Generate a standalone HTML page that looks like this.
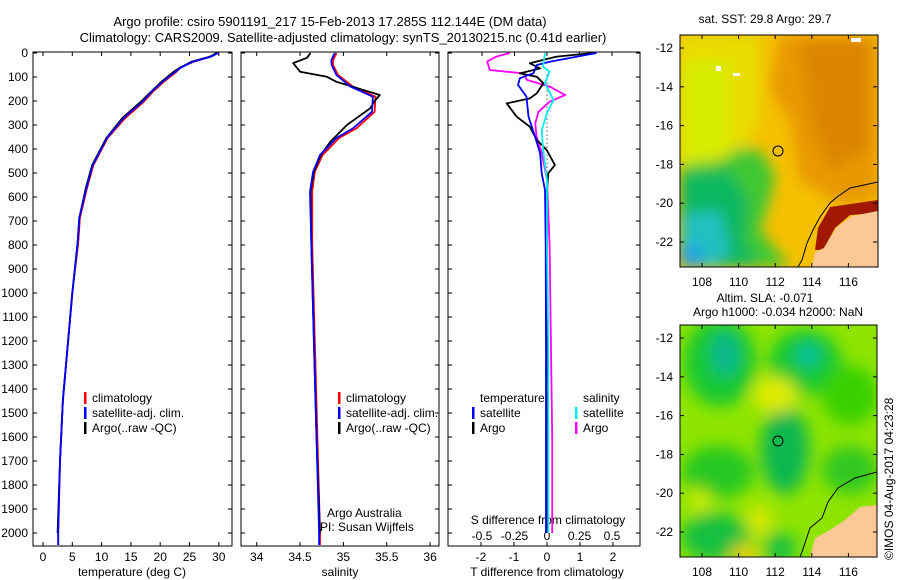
<!DOCTYPE html>
<html><head><meta charset="utf-8"><style>
body{margin:0;background:#fff;}
svg{display:block;font-family:"Liberation Sans",sans-serif;}
</style></head><body>
<svg id="fig" width="900" height="580" viewBox="0 0 900 580">
<defs>
<filter id="blur1" x="-20%" y="-20%" width="140%" height="140%"><feGaussianBlur stdDeviation="7"/></filter>
<filter id="blur2" x="-20%" y="-20%" width="140%" height="140%"><feGaussianBlur stdDeviation="8"/></filter>
<clipPath id="c1"><rect x="680" y="35" width="198" height="232"/></clipPath>
<clipPath id="c2"><rect x="680" y="325" width="197" height="232"/></clipPath>
</defs>
<g font-size="13" text-anchor="middle" fill="#000">
<text x="330" y="26">Argo profile: csiro 5901191_217 15-Feb-2013 17.285S 112.144E (DM data)</text>
<text x="343" y="42">Climatology: CARS2009. Satellite-adjusted climatology: synTS_20130215.nc (0.41d earlier)</text>
</g>
<!-- Map 1 -->
<g clip-path="url(#c1)">
<rect x="680" y="35" width="198" height="232" fill="#f5c000"/>
<g filter="url(#blur1)">
<polygon points="780,35 878,35 878,200 840,205 800,180 790,120 770,90" fill="#e89800"/>
<polygon points="800,40 870,40 870,150 830,170 810,120" fill="#dc8600"/>
<polygon points="680,35 760,35 760,120 740,160 700,170 680,175" fill="#e8dc00"/>
<polygon points="680,60 730,60 730,150 690,170 680,170" fill="#d8ec00"/>
<polygon points="680,165 720,160 740,148 760,150 775,175 770,200 760,230 790,267 680,267" fill="#40c830"/>
<polygon points="680,175 730,170 748,200 745,240 760,267 680,267" fill="#10b860"/>
<polygon points="680,215 720,210 730,250 720,267 680,267" fill="#20c0c0"/>
<polygon points="680,245 700,245 705,267 680,267" fill="#20a0e8"/>
</g>
<polygon points="830,207 878,200 878,213 850,215 835,228 823,250 815,250 818,228" fill="#a01800"/>
<polygon points="878,211 878,267 812,267 815,252 824,248 836,228 852,216" fill="#fcc896"/>
<polyline points="878,182 850,188 837,197 830,203 820,217 813,230 807,243 802,260 798,267" fill="none" stroke="#000" stroke-width="1"/>
<rect x="716" y="66" width="5" height="5" fill="#fff"/><rect x="733" y="73" width="7" height="3" fill="#fff"/>
<rect x="851" y="38" width="10" height="4" fill="#fff"/>
<circle cx="778" cy="151" r="5" fill="none" stroke="#000"/>
</g>
<rect x="680" y="35" width="198" height="232" fill="none" stroke="#000"/>
<!-- Map 2 -->
<g clip-path="url(#c2)">
<rect x="680" y="325" width="197" height="232" fill="#8ee400"/>
<g filter="url(#blur2)">
<ellipse cx="720" cy="362" rx="36" ry="44" fill="#18c830"/>
<ellipse cx="805" cy="362" rx="36" ry="32" fill="#18c830"/>
<ellipse cx="725" cy="355" rx="14" ry="22" fill="#10b890"/>
<ellipse cx="808" cy="355" rx="12" ry="12" fill="#10c0a0"/>
<ellipse cx="850" cy="395" rx="28" ry="30" fill="#38d000"/>
<ellipse cx="785" cy="450" rx="24" ry="44" fill="#10b850"/>
<ellipse cx="718" cy="472" rx="36" ry="26" fill="#28c820"/>
<ellipse cx="715" cy="537" rx="34" ry="24" fill="#18c040"/>
<ellipse cx="780" cy="548" rx="16" ry="16" fill="#18c040"/>
<ellipse cx="850" cy="470" rx="28" ry="24" fill="#30c820"/>
<ellipse cx="775" cy="395" rx="22" ry="18" fill="#e0ec00"/>
<ellipse cx="700" cy="500" rx="10" ry="12" fill="#d0ee00"/>
<ellipse cx="760" cy="520" rx="12" ry="16" fill="#dce800"/>
<ellipse cx="745" cy="555" rx="14" ry="10" fill="#f0d000"/>
</g>
<polygon points="877,505 860,507 845,520 830,530 815,538 810,557 877,557" fill="#fcc896"/>
<polyline points="877,472 855,478 838,488 828,502 822,518 810,528 802,552 800,557" fill="none" stroke="#000"/>
<circle cx="778" cy="441" r="5" fill="none" stroke="#000"/>
</g>
<rect x="680" y="325" width="197" height="232" fill="none" stroke="#000"/>
<g font-size="12" text-anchor="middle">
<text x="765" y="23">sat. SST: 29.8 Argo: 29.7</text>
<text x="765" y="302">Altim. SLA: -0.071</text>
<text x="778" y="316">Argo h1000: -0.034 h2000: NaN</text>
</g>
<text transform="translate(893,560) rotate(-90)" font-size="12">©IMOS 04-Aug-2017 04:23:28</text>
<g id="layer"></g>
</svg>
<script>
// ---------- data ----------
const depthTicks=[0,100,200,300,400,500,600,700,800,900,1000,1100,1200,1300,1400,1500,1600,1700,1800,1900,2000];
const tempTicks=[0,5,10,15,20,25,30];
const salTicks=[34,34.5,35,35.5,36];
const salTickLabels=["34","34.5","35","35.5","36"];
const tdTicks=[-2,-1,0,1,2];
const sdTicks=[-0.5,-0.25,0,0.25,0.5];
const sdTickLabels=["-0.5","-0.25","0","0.25","0.5"];

const tDepthArgo=[0,15,36,60,78,120,160,203,272,355,467,563,687,792,1000,1196,1446,1700,2000];
const tArgo=[29.6,28.5,25.4,23.5,22.3,20.2,18.5,16.7,13.5,10.8,8.4,7.3,6.2,5.9,5.0,4.3,3.4,2.9,2.5];
const tDepthClim=[0,15,36,60,78,120,160,203,272,355,467,563,687,792,1000,1196,1446,1700,2000,2050];
const tClim=[29.8,28.6,25.8,23.4,22.8,20.6,18.8,17.2,14.0,11.0,8.6,7.5,6.3,6.0,5.0,4.3,3.4,2.9,2.6,2.6];
const tSat=[29.9,28.7,25.6,23.6,22.6,20.4,18.6,17.0,13.7,10.9,8.5,7.4,6.2,5.9,5.0,4.3,3.4,2.9,2.6,2.6];

const sDepthArgo=[0,20,42,78,99,120,175,200,230,300,370,425,495,578,792,1200,1600,2000];
const sArgo=[34.62,34.58,34.42,34.50,34.81,34.92,35.42,35.36,35.31,35.04,34.85,34.74,34.66,34.62,34.63,34.66,34.69,34.73];
const sDepthClim=[0,30,50,92,140,182,245,314,354,425,495,578,792,1200,1600,2000,2050];
const sClim=[34.92,34.88,34.88,34.94,35.11,35.37,35.36,35.15,34.95,34.76,34.67,34.64,34.64,34.67,34.70,34.73,34.73];
const sSat=[34.90,34.86,34.865,34.92,35.08,35.34,35.33,35.11,34.92,34.73,34.65,34.615,34.63,34.66,34.69,34.72,34.72];

const dDepthA=[0,15,43,64,85,99,126,168,189,210,265,307,362,404,467,501,571,800,1200,1600,2000];
const tdArgo=[1.4,0.29,-0.52,-0.21,-0.82,-0.31,-0.11,-0.31,-0.52,-1.22,-0.92,-0.52,-0.31,-0.01,0.24,0.04,0,0,0,0,0];
const dDepthS=[0,36,50,84,105,133,182,265,349,418,501,571,800,1200,1600,2000];
const tdSat=[1.5,0.1,-0.31,-0.41,-0.82,-0.88,-0.62,-0.56,-0.36,-0.21,-0.16,-0.06,-0.04,-0.03,-0.03,-0.03];
const dDepthSA=[0,15,36,71,85,112,140,175,203,245,293,349,418,529,800,1200,1600,2000];
const sdArgo=[-0.285,-0.39,-0.46,-0.44,-0.18,-0.155,0.02,0.14,0.02,-0.065,-0.09,-0.08,-0.04,0.0,0.02,0.03,0.04,0.04];
const dDepthSS=[0,57,78,126,196,250,321,404,529,800,1200,1600,2000];
const sdSat=[-0.015,-0.03,0.02,-0.015,0.05,0,-0.04,-0.03,0,0,0.01,0.01,0.01];

// ---------- axes ----------
const TOP=53, BOT=546;
const yD=d=>TOP+d*0.24;
const xT=v=>43+v*5.86;
const xS=v=>256.7+(v-34)*86.7;
const xTD=v=>547+v*33;
const xSD=v=>547+v*130;
const NS="http://www.w3.org/2000/svg";
const layer=document.getElementById('layer');
function mk(tag,attrs,parent){const e=document.createElementNS(NS,tag);for(const k in attrs)e.setAttribute(k,attrs[k]);(parent||layer).appendChild(e);return e;}
function txt(x,y,s,anchor,size){const t=mk('text',{x:x,y:y,'font-size':size||12,'text-anchor':anchor||'middle'});t.textContent=s;return t;}

const panels=[{l:33,r:232,name:'temperature'},{l:241,r:439,name:'salinity'},{l:448,r:640,name:'difference'}];
panels.forEach(p=>{
  const fr=mk('rect',{x:p.l,y:TOP-1,width:p.r-p.l,height:BOT-TOP+1,fill:'none',stroke:'#000'});
  
  
  depthTicks.forEach(d=>{
    mk('line',{x1:p.l,x2:p.l+4,y1:yD(d),y2:yD(d),stroke:'#000'});
    mk('line',{x1:p.r,x2:p.r-4,y1:yD(d),y2:yD(d),stroke:'#000'});
  });
});
depthTicks.forEach(d=>{
  const t=txt(28,yD(d)+4,String(d),'end',12);
  
  
});
tempTicks.forEach(v=>{
  mk('line',{x1:xT(v),x2:xT(v),y1:BOT,y2:BOT-4,stroke:'#000'});
  mk('line',{x1:xT(v),x2:xT(v),y1:TOP-1,y2:TOP+3,stroke:'#000'});
  const t=txt(xT(v),561,String(v));
  
  
});
salTicks.forEach((v,i)=>{
  mk('line',{x1:xS(v),x2:xS(v),y1:BOT,y2:BOT-4,stroke:'#000'});
  mk('line',{x1:xS(v),x2:xS(v),y1:TOP-1,y2:TOP+3,stroke:'#000'});
  const t=txt(xS(v),561,salTickLabels[i]);
  
  
});
tdTicks.forEach(v=>{
  mk('line',{x1:xTD(v),x2:xTD(v),y1:BOT,y2:BOT-4,stroke:'#000'});
  const t=txt(xTD(v),561,String(v));
  
  
});
sdTicks.forEach((v,i)=>{
  mk('line',{x1:xSD(v),x2:xSD(v),y1:TOP-1,y2:TOP+3,stroke:'#000'});
  const t=txt(xSD(v),540,sdTickLabels[i]);
  
  
});
[[132,'temperature (deg C)','temp-axis-title'],[340,'salinity','sal-axis-title'],[547,'T difference from climatology','tdiff-axis-title']].forEach(a=>{
  const t=txt(a[0],576,a[1]);
  
  
});
{const t=txt(548,524,'S difference from climatology');

}

{const l=mk('line',{x1:547,x2:547,y1:yD(90),y2:yD(700),stroke:'#000','stroke-dasharray':'1,3'});

}

function line(depths,vals,xf,color,name){
  const pts=depths.map((d,i)=>xf(vals[i]).toFixed(1)+','+yD(d).toFixed(1)).join(' ');
  const pl=mk('polyline',{points:pts,fill:'none',stroke:color,'stroke-width':1.8,'stroke-linejoin':'round'});
  
  
}
line(tDepthClim,tClim,xT,'#f00','temp-climatology-line');
line(tDepthArgo,tArgo,xT,'#000','temp-argo-line');
line(tDepthClim,tSat,xT,'#00f','temp-satellite-line');
line(sDepthClim,sClim,xS,'#f00','sal-climatology-line');
line(sDepthArgo,sArgo,xS,'#000','sal-argo-line');
line(sDepthClim,sSat,xS,'#00f','sal-satellite-line');
line(dDepthSA,sdArgo,xSD,'#f0f','sdiff-argo-line');
line(dDepthA,tdArgo,xTD,'#000','tdiff-argo-line');
line(dDepthS,tdSat,xTD,'#00f','tdiff-satellite-line');
line(dDepthSS,sdSat,xSD,'#0ee','sdiff-satellite-line');

function legend(x,y,color,label,name){
  const m=mk('rect',{x:x,y:y-10,width:2.5,height:12,fill:color});
  
  
  const t=txt(x+8,y,label,'start',12);
  
  
}
[[84,'temp'],[338,'sal']].forEach(g=>{
  legend(g[0],402,'#f00','climatology',g[1]+'-legend-climatology');
  legend(g[0],417,'#00f','satellite-adj. clim.',g[1]+'-legend-satellite');
  legend(g[0],432,'#000','Argo(..raw -QC)',g[1]+'-legend-argo');
});
{const t=txt(480,402,'temperature','start',12);}
{const t=txt(583,402,'salinity','start',12);}
legend(472,417,'#00f','satellite','diff-legend-t-satellite');
legend(472,432,'#000','Argo','diff-legend-t-argo');
legend(575,417,'#0ee','satellite','diff-legend-s-satellite');
legend(575,432,'#f0f','Argo','diff-legend-s-argo');
{const t=txt(327,517,'Argo Australia','start',12);}
{const t=txt(320,531,'PI: Susan Wijffels','start',12);}

const lonTicks=[108,110,112,114,116];
const latTicks=[-12,-14,-16,-18,-20,-22];
const xLon=v=>702+(v-108)*18.3;
function mapAxes(top,bot,yLat0,name){
  lonTicks.forEach(v=>{
    mk('line',{x1:xLon(v),x2:xLon(v),y1:bot,y2:bot-4,stroke:'#000'});
    mk('line',{x1:xLon(v),x2:xLon(v),y1:top,y2:top+4,stroke:'#000'});
    const t=txt(xLon(v),bot+19,String(v));
    
    
  });
  latTicks.forEach(v=>{
    const y=yLat0+(-12-v)*19.4;
    mk('line',{x1:680,x2:684,y1:y,y2:y,stroke:'#000'});
    mk('line',{x1:877,x2:873,y1:y,y2:y,stroke:'#000'});
    const t=txt(673,y+4,String(v),'end');
    
    
  });
}
mapAxes(35,267,48,'sst-map');
mapAxes(325,557,338,'sla-map');
</script>
</body></html>
